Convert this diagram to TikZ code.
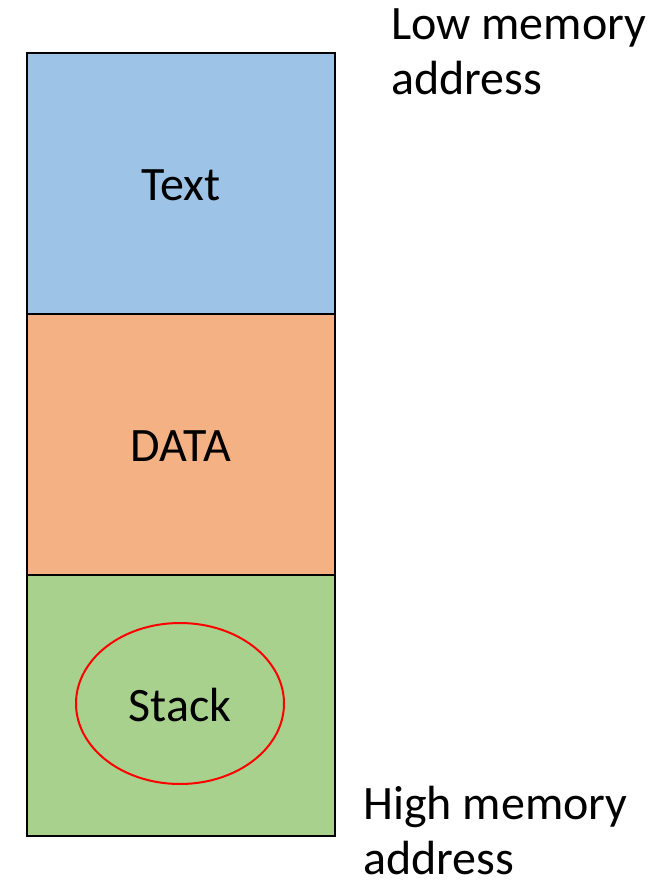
\documentclass[tikz,border=0pt]{standalone}
\usepackage{fontspec}
\setmainfont{Carlito}
\usetikzlibrary{shapes.geometric}
\begin{document}
\begin{tikzpicture}[x=1pt,y=-1pt,
  seg/.style={draw=black,line width=2pt,minimum width=308pt,minimum height=261pt,inner sep=0pt},
  boxtxt/.style={font=\fontsize{48}{55}\selectfont,inner sep=0pt},
  lbl/.style={font=\fontsize{48}{55}\selectfont,align=left,inner sep=0pt}]
\useasboundingbox (0,0) rectangle (669,882);
\node[seg,fill={rgb,255:red,157;green,195;blue,230},anchor=north west] (text) at (26,52) {};
\node[seg,fill={rgb,255:red,244;green,177;blue,131},anchor=north west] (data) at (26,313) {};
\node[seg,fill={rgb,255:red,169;green,209;blue,142},anchor=north west] (stack) at (26,574) {};
\node[boxtxt] (tl) at ([yshift=-2pt]text.center) {Text};
\node[boxtxt] (dl) at ([yshift=-2pt]data.center) {DATA};
\node[draw={rgb,255:red,255;green,0;blue,0},line width=2pt,ellipse,minimum width=208pt,minimum height=161pt,inner sep=0pt] (ell) at (180,703.5) {};
\node[boxtxt] (sl) at ([yshift=-2pt]ell.center) {Stack};
\node[lbl,anchor=base west] (low) at (391,95) {Low memory\\address};
\node[lbl,anchor=base west] (high) at (363,874) {High memory\\address};
\end{tikzpicture}
\end{document}
